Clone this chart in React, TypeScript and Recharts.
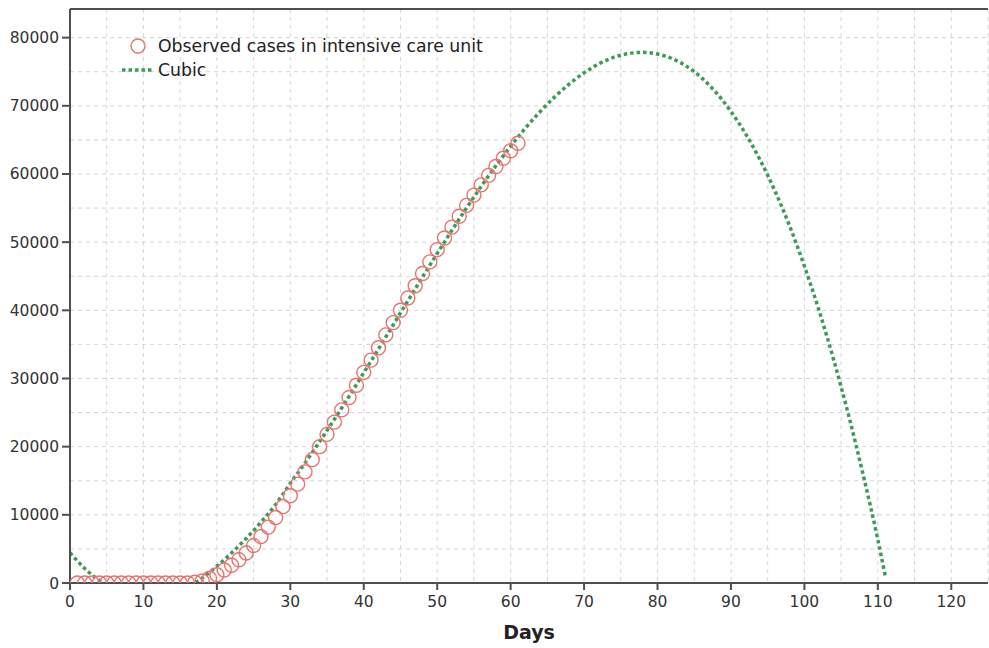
import { CartesianGrid, ComposedChart, Line, ReferenceLine, Scatter, XAxis, YAxis } from "recharts";

const observedDays = [
  1, 2, 3, 4, 5, 6, 7, 8, 9, 10, 11, 12, 13, 14, 15, 16, 17, 18, 19, 20,
  21, 22, 23, 24, 25, 26, 27, 28, 29, 30, 31, 32, 33, 34, 35, 36, 37, 38, 39, 40,
  41, 42, 43, 44, 45, 46, 47, 48, 49, 50, 51, 52, 53, 54, 55, 56, 57, 58, 59, 60, 61,
];
const observedCases = [
  0, 0, 0, 0, 0, 0, 0, 0, 0, 0, 0, 0, 0, 0, 0, 0, 100, 300, 700, 1200,
  1900, 2600, 3400, 4400, 5500, 6800, 8200, 9600, 11200, 12800, 14500, 16300, 18100, 20000, 21800, 23600, 25400, 27200, 29000, 30900,
  32700, 34500, 36400, 38200, 40000, 41800, 43600, 45400, 47100, 48900, 50600, 52200, 53800, 55400, 56900, 58400, 59800, 61100, 62300, 63400, 64500,
];

const cubicDays = [
  0, 2, 4, 6, 8, 10, 12, 14, 16, 18, 20, 22, 24, 26, 28, 30, 32, 34, 36, 38,
  40, 42, 44, 46, 48, 50, 52, 54, 56, 58, 60, 62, 64, 66, 68, 70, 72, 74, 76, 78,
  80, 82, 84, 86, 88, 90, 92, 94, 96, 98, 100, 102, 104, 106, 108, 110, 111,
];
const cubicFit = [
  4440, 2140, 370, -900, -1700, -2040, -1950, -1460, -600, 720, 2470, 4410, 6540, 8920, 11520, 14630, 17610, 20750, 24010, 27380,
  30830, 34320, 37850, 41380, 44880, 48340, 51730, 55020, 58190, 61210, 64060, 66710, 69130, 71310, 73210, 74850, 76150, 77100, 77650, 77840,
  77590, 76910, 75760, 74100, 71910, 69170, 65870, 61990, 57480, 52340, 46470, 39960, 32690, 24690, 15880, 6360, 1100,
];

const xTicks = [0, 5, 10, 15, 20, 25, 30, 35, 40, 45, 50, 55, 60, 65, 70, 75, 80, 85, 90, 95, 100, 105, 110, 115, 120];
const yTicks = [
  0, 5000, 10000, 15000, 20000, 25000, 30000, 35000, 40000, 45000, 50000, 55000, 60000, 65000, 70000, 75000, 80000,
];
const X_MAX = 125;
const Y_MAX = 84200;

const observed = observedDays.map((d, i) => ({ day: d, cases: observedCases[i] }));
const cubic = cubicDays.map((d, i) => ({ day: d, fit: cubicFit[i] }));

const FONT = "'DejaVu Sans', sans-serif";
const AXIS = "#4f4f4f";
const RED = "#e8736c";
const GREEN = "#3c9a58";

function XTick({ x, y, payload }: any) {
  if (payload.value % 10 !== 0) return <g />;
  return (
    <g>
      <line x1={x} x2={x} y1={y} y2={y + 7} stroke={AXIS} strokeWidth={2} />
      <text x={x} y={y + 24} textAnchor="middle" fontSize={15.5} fontFamily={FONT} fill="#333">
        {payload.value}
      </text>
    </g>
  );
}

function YTick({ x, y, payload }: any) {
  if (payload.value % 10000 !== 0) return <g />;
  return (
    <g>
      <line x1={x - 8} x2={x} y1={y} y2={y} stroke={AXIS} strokeWidth={2} />
      <text x={x - 11} y={y + 5.5} textAnchor="end" fontSize={15.5} fontFamily={FONT} fill="#333">
        {payload.value}
      </text>
    </g>
  );
}

function Ring(props: any) {
  const { cx, cy } = props;
  return <circle cx={cx} cy={cy} r={7} fill="none" stroke={RED} strokeWidth={1.4} />;
}

// legend sits inside the plot, top-left
function ChartLegend() {
  return (
    <svg width={400} height={50} style={{ position: "absolute", left: 118, top: 34 }}>
      <circle cx={20} cy={12} r={7} fill="none" stroke={RED} strokeWidth={1.4} />
      <text x={40} y={18} fontSize={17.3} fontFamily={FONT} fill="#222">
        Observed cases in intensive care unit
      </text>
      <line x1={4} x2={36} y1={36} y2={36} stroke={GREEN} strokeWidth={3.5} strokeDasharray="3.5 3" />
      <text x={40} y={42} fontSize={17.3} fontFamily={FONT} fill="#222">
        Cubic
      </text>
    </svg>
  );
}

export default function App() {
  return (
    <div style={{ position: "absolute", left: 0, top: 0, width: 989, height: 648, background: "#fff" }}>
      <ComposedChart width={989} height={648} margin={{ top: 9, right: 1, left: 0, bottom: 0 }}>
        <CartesianGrid stroke="#d6d6d6" strokeDasharray="4 4" />
        <XAxis
          dataKey="day"
          type="number"
          domain={[0, X_MAX]}
          ticks={xTicks}
          allowDataOverflow
          interval={0}
          height={65}
          stroke={AXIS}
          strokeWidth={2}
          tickLine={false}
          tickSize={0}
          tickMargin={0}
          tick={<XTick />}
          label={{
            value: "Days",
            position: "insideBottom",
            offset: 9,
            style: { fontFamily: FONT, fontSize: 19, fontWeight: "bold", fill: "#222" },
          }}
        />
        <YAxis
          type="number"
          domain={[0, Y_MAX]}
          ticks={yTicks}
          allowDataOverflow
          interval={0}
          width={70}
          stroke={AXIS}
          strokeWidth={2}
          tickLine={false}
          tickSize={0}
          tickMargin={0}
          tick={<YTick />}
        />
        <ReferenceLine y={Y_MAX} stroke={AXIS} strokeWidth={2} ifOverflow="visible" />
        <Scatter data={observed} dataKey="cases" shape={<Ring />} isAnimationActive={false} />
        <Line
          data={cubic}
          dataKey="fit"
          type="monotone"
          stroke={GREEN}
          strokeWidth={3.5}
          strokeDasharray="3.5 3"
          dot={false}
          activeDot={false}
          isAnimationActive={false}
        />
      </ComposedChart>
      <ChartLegend />
    </div>
  );
}
